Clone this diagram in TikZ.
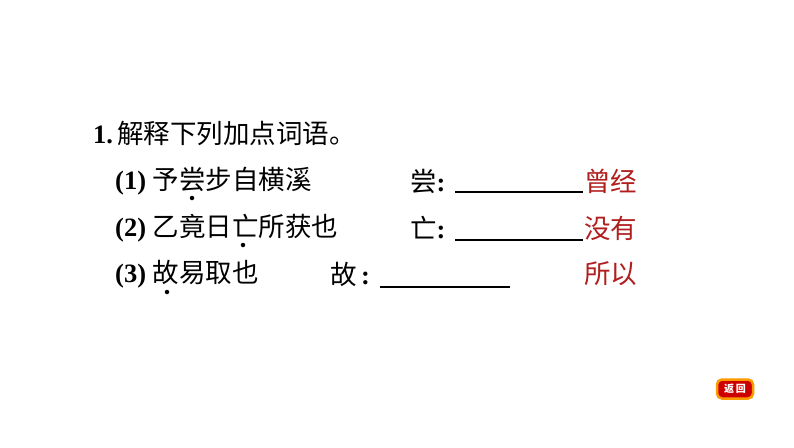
\documentclass[tikz,border=0pt]{standalone}
\usepackage{fontspec}
\setmainfont{Liberation Serif}
\newfontfamily\cjk{Noto Sans CJK SC}
\definecolor{ans}{HTML}{B01E1E}
\begin{document}
\begin{tikzpicture}[x=1pt,y=-1pt,
  txt/.style={anchor=west,inner sep=0pt,font=\fontsize{26.5}{26.5}\selectfont},
  red/.style={txt,text=ans},
  dotm/.style={circle,fill=black,inner sep=0pt,minimum size=4.5pt},
  uline/.style={line width=1.3pt}]
\useasboundingbox[fill=white] (0,0) rectangle (794,447);
\node[txt] (t0) at (93,133) {\textbf{1.}\,{\cjk 解释下列加点词语。}};
\node[txt] (a1) at (115,181) {\textbf{(1)} {\cjk 予尝步自横溪}};
\node[txt] (a2) at (115,228) {\textbf{(2)} {\cjk 乙竟日亡所获也}};
\node[txt] (a3) at (115,274) {\textbf{(3)} {\cjk 故易取也}};
\node[txt] (l1) at (410,181) {{\cjk 尝}\textbf{:}};
\node[txt] (l2) at (410,228) {{\cjk 亡}\textbf{:}};
\node[txt] (l3) at (330,274) {{\cjk 故}\,\textbf{:}};
\node[red] (r1) at (584,181) {\cjk 曾经};
\node[red] (r2) at (584,228) {\cjk 没有};
\node[red] (r3) at (584,274) {\cjk 所以};
\coordinate (u1a) at (455,192); \coordinate (u1b) at (583,192);
\coordinate (u2a) at (455,240); \coordinate (u2b) at (583,240);
\coordinate (u3a) at (380,287); \coordinate (u3b) at (510,287);
\draw[uline] (u1a) -- (u1b);
\draw[uline] (u2a) -- (u2b);
\draw[uline] (u3a) -- (u3b);
\node[dotm] (d1) at (192,198) {};
\node[dotm] (d2) at (243,245) {};
\node[dotm] (d3) at (167,292) {};
\node[draw=orange!80!yellow,line width=2.5pt,fill=red!80!black,rounded corners=5pt,
  minimum width=36pt,minimum height=19pt,inner sep=0pt,text=white,
  font=\cjk\fontsize{10}{10}\selectfont\bfseries] (btn) at (735,389) {返\,回};
\end{tikzpicture}
\end{document}
